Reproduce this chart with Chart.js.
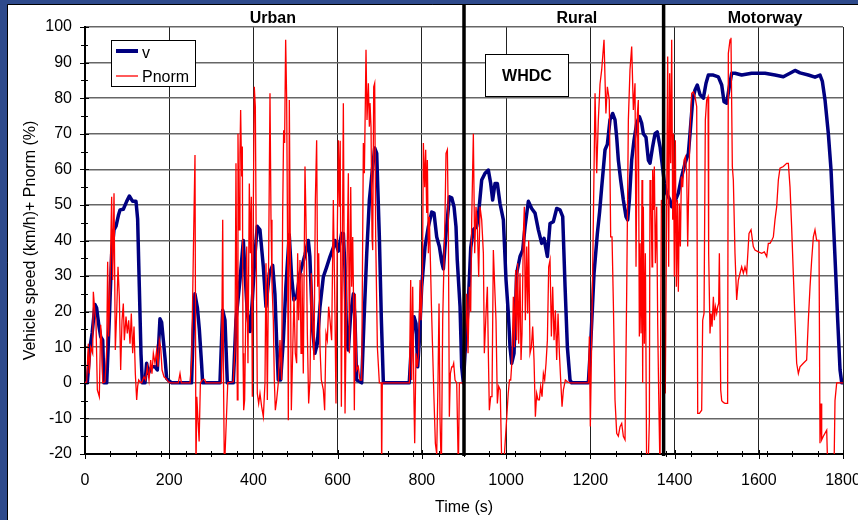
<!DOCTYPE html>
<html>
<head>
<meta charset="utf-8">
<script src="https://cdn.jsdelivr.net/npm/chart.js@4.4.1/dist/chart.umd.min.js"></script>
<style>
html, body { margin: 0; padding: 0; background: #2E4A8C; }
</style>
</head>
<body>
<canvas id="whdcChart" width="858" height="520"></canvas>
<script>
// vehicle speed v (km/h), [time s, value]
const speedTrace = [
  [0,0],[5.5,0],[11.9,10],[17,14],[23.7,22],[27.7,21],[33,16],[37.2,13],[42,12],[45,0],[51.5,0],
  [57.8,18],[63.3,36],[68.9,43],[73.6,44],[79.2,47],[83.1,48.6],[91,48.8],[99,51],[105.3,52.5],
  [113.2,51],[121.1,51],[125,46],[129,27],[133,8],[136.2,0],[142.5,0],[146.4,5.5],[150.4,2.6],
  [158.3,4.5],[166.2,4.5],[171.8,3.6],[178,18],[182,17],[186,12],[190,7],[194,1.2],[202,0.3],
  [206,0],[253,0],[257,15],[261,25],[267,21],[271.5,15],[277,5],[279.4,0],[320.5,0],[326.9,20.4],
  [332.4,17.6],[338,0],[352.2,0],[358.5,17.6],[368,28.9],[376,40],[380,30.8],[385.5,19.5],
  [391.8,14.4],[397.3,23],[403.7,36],[409,44],[415.5,43],[423.5,32.6],[429.8,21.4],[437.7,30.8],
  [445.6,33],[451,25],[455,12],[459,0.8],[464.6,0.8],[471,12],[477,27],[485,41.6],[490.7,29.8],
  [496,23.3],[502.6,24.2],[510.5,30.8],[522.4,36],[530.3,40],[534,35.5],[540.6,14.8],[546,8.3],
  [551.7,11],[558,21.4],[566,29.8],[574,32.6],[581.8,35.5],[589.7,38],[593.7,40],[601.6,37],
  [609.5,42],[613.5,42],[617.5,31.7],[621.4,12],[625.4,9.2],[631,19.5],[637.3,25],[641.2,17.6],
  [645,0.8],[657,0],[662.6,17.6],[669,36.3],[675.3,51.4],[681.6,58.9],[687.9,66],[692.7,64.5],
  [699,41],[703.8,17.6],[708.5,0],[770,0],[775.8,12],[781.3,18.6],[786,16.7],[790,4.5],[794,12],
  [799.5,27],[807.5,38.3],[815.4,43.9],[823.3,48],[828.8,47.7],[835.2,41],[841.5,38.3],[847,34],
  [851,32],[857.3,42],[865.3,52.3],[870.8,52],[876.3,49.5],[881,43.9],[884,34.5],[890.6,21.4],
  [894.5,4.5],[898.5,0],[902.5,8.3],[910,22],[916,38],[922.2,43],[930,43.9],[934,46.7],[942,57],
  [950,58.9],[957.8,59.8],[963.4,56],[968,51.4],[973.7,56],[979.2,56],[985.5,50.4],[993.5,45.8],
  [999.8,28.9],[1005.3,19.5],[1009.3,10],[1013.3,5.5],[1018.8,8.3],[1025.1,30.8],[1033,35.5],
  [1039.4,37.3],[1045,43.9],[1052.8,51],[1060.7,49],[1068.7,47.7],[1076.6,43],[1084.5,39.2],
  [1090,40.6],[1098,35.5],[1104.3,44.8],[1112.2,45.3],[1120.1,49],[1128,48.6],[1134.4,46.7],
  [1140,27],[1145.5,10],[1151.8,0.8],[1155.7,0],[1195.3,0],[1200.9,11],[1208.8,30.8],[1216.7,42],
  [1222,48],[1227,55],[1234.9,65.5],[1240.4,67],[1246.7,73.9],[1253,75.7],[1258.6,73.9],
  [1262.6,69],[1266.5,62.6],[1272,57],[1278.4,51.4],[1284.7,46.7],[1288.7,45.8],[1292.7,51.4],
  [1298.2,62.6],[1303.7,68.2],[1310,72.9],[1316.4,74.8],[1322,72.9],[1325.9,70],[1332.2,69],
  [1337.8,62.6],[1341.7,61.7],[1348,66.4],[1353.6,70],[1359,70.5],[1365.5,66.4],[1369.4,62.6],
  [1376,56],[1381,53.3],[1389,51.4],[1393,49.5],[1401,51],[1409,53.3],[1417,58],[1424.9,61.7],
  [1432.8,64.5],[1436.7,70],[1443,79.5],[1448.6,82.3],[1454,83.7],[1460.5,81],[1468.4,80],
  [1474.7,84.2],[1480.3,86.5],[1492,86.5],[1504,86],[1512,83.7],[1517.5,79],[1523.8,78.6],
  [1530,83.2],[1535.7,87],[1543.5,87],[1559.4,86.5],[1583,87],[1614.8,87],[1638.5,86.5],
  [1658.3,86],[1674,87],[1686,87.8],[1697.9,87.1],[1717.7,86.5],[1733.5,85.9],[1745.4,86.5],
  [1751,84.7],[1757.3,79.5],[1765.2,70],[1771.5,60],[1777,45.8],[1782.7,30.8],[1787.4,17.6],
  [1793,3.6],[1797,0],[1800,0]
];

// normalised power Pnorm (%), [time s, value]
const pnormTrace = [
  [0,0],[4,0.3],[7.9,11],[10.3,2.6],[13.5,10],[18.2,8.3],[19.8,25.6],[23.7,19.5],[26,17.6],
  [29.3,-2],[34,-3.9],[37.2,16.3],[39.6,12],[42,0],[47.5,0.3],[51.5,9.2],[53.8,34],[56.2,13],
  [59.4,28],[63.3,52.3],[65.7,28.9],[68.9,53.3],[72,9.2],[75.2,19.5],[78.4,32.6],[81.5,24.2],
  [84.7,3.6],[87.9,17.6],[91,22.3],[93.4,12],[97.4,18.6],[100.5,13.9],[103.7,17.6],[106.9,11],
  [110,19.5],[113.2,8.3],[116.4,15.8],[119.5,2.6],[122.7,-4.8],[125,-1],[127.5,0.8],[130.6,0.3],
  [134.6,0],[140,1.7],[144,0.8],[148,4.5],[152,0.8],[156,6.4],[159,2.6],[162.3,8.3],[166.2,5.5],
  [170.2,9.2],[173.4,4.5],[176.5,12],[179.7,10],[183,3.6],[187.6,1.7],[192.4,1.2],[198,0.3],
  [203.4,0],[221.6,0],[225.6,2.6],[228.8,0],[249.4,0],[253.3,6.4],[257.3,36.4],[261.2,64],
  [263.5,-25],[265.5,-3.9],[271,-16.5],[274,0],[280,1],[284,1],[287,0],[324,0],[327,45.8],
  [329,0],[331,-25],[339,0],[352.2,0.3],[356.2,10],[358.5,61.7],[361.7,-4.8],[363.3,70],
  [365.7,43],[368,64.5],[369.6,76.7],[372,58],[373.6,66.4],[375.2,8.3],[376.8,-7.7],[379.1,-4.8],
  [384,38.3],[387,5.5],[390.2,56],[392.6,36.4],[395,52.3],[397.3,-3.9],[399.7,49.5],[402,83.2],
  [404.5,77.6],[406.8,34.5],[409.2,-3],[412.4,-5.8],[415.5,-3],[419.5,-6.7],[423.5,-9.5],
  [427.4,0],[429.8,33.6],[433,-4.8],[436,33.6],[439.3,81.4],[441.7,45.8],[444,28],[447.2,17.6],
  [449.6,0.8],[452,-7.7],[455.1,-4.8],[459,0],[463,12],[467,0.8],[469.4,47.7],[471.7,71],
  [474,67.4],[476.5,96.4],[478.9,79.5],[481.2,36.4],[482.8,-10.5],[485.2,79.5],[487.6,36.4],
  [490,-7.7],[493.1,8.3],[496.3,24.2],[499.4,8.3],[502.6,5.5],[505,36.4],[507.4,17.6],
  [510.5,34.5],[513,8.3],[515.3,30.8],[518.4,2.6],[522.4,60.8],[524.8,45.8],[528,13.9],
  [531.1,-5.8],[534.3,0.8],[537.4,30.8],[540.6,17.6],[543.8,6.4],[547,51.4],[550.1,68.2],
  [552.5,27],[554.9,36.4],[558,10],[561.2,0.8],[566,-2],[569.1,-7.7],[572.3,13.9],[575.4,12],
  [578.6,21.4],[581.8,17.6],[585.7,12],[589.7,51.4],[593.6,19.5],[596,-5.8],[599.2,43],
  [601.6,68.2],[604,49.5],[606,68],[608.8,-6.7],[613.5,78.6],[615.9,27],[617.5,-8.6],[621.4,27],
  [625.4,58.9],[627.8,8.3],[631,55],[633.3,27],[635.7,41],[637.3,27],[639.6,-7.7],[642,25],
  [645.2,3.6],[649,4.5],[653,0.8],[657,0.8],[661,67.4],[663.4,58.9],[665.8,79.5],[667.3,93.6],
  [669.7,73.9],[672.9,84.2],[675.3,72],[676.8,78.6],[679.2,72],[681.6,41],[683.2,37.3],
  [685.6,83.2],[687.9,84.2],[690.3,41],[694.3,10],[699,0],[703.5,0],[704.5,-25],[706,0],
  [770.3,0],[773.4,28.9],[775.8,0.8],[778.2,27],[781.3,-5.8],[782.9,-17],[786,8.3],[789.3,4.5],
  [792.4,8.3],[795.6,28.9],[798,17.6],[801.1,27],[803.5,67.4],[806.7,55],[809,65.5],[811.4,47.7],
  [813,62.6],[815.4,36.4],[817.7,46.7],[820.9,30.8],[822.5,22.3],[825.7,8.3],[828.8,-4.8],
  [832,-17],[835.2,-20],[838.3,0.8],[840.7,22.3],[843.1,-10.5],[846.2,-25],[849.4,17.6],
  [852.6,34.5],[855,47.7],[857.3,64.5],[860.5,65.5],[862.9,43.9],[865.2,-9.5],[867.6,2.6],
  [870.8,4.5],[873.2,4.5],[875.5,5.5],[878.7,0.8],[882.7,0],[886.6,-25],[889,0],[900,0],
  [906.4,25],[909.6,8.3],[912.7,27],[915.9,20],[918.3,45.8],[922.2,70],[925.4,36.4],[928.5,49.5],
  [931.7,43.9],[934.9,29.8],[938,49.5],[942,45.8],[946,36.4],[948.3,8.3],[952.3,19.5],[955.5,27],
  [957.8,8.3],[960.2,-7.7],[963.4,-3.9],[966.5,-3.9],[969.7,37.3],[972.9,27],[976,17.6],
  [979.2,-5.8],[982.4,-1],[986,-2],[990,-25],[995,-22],[1005,-3],[1008,0.8],[1010.9,0.8],
  [1014,6.4],[1017.2,24.2],[1019.6,10],[1022.7,31.7],[1025.1,12],[1027.5,33.6],[1029.9,11],
  [1033,30.8],[1035.4,6.4],[1037.8,13.9],[1041,42],[1043.3,49.5],[1045.7,17.6],[1048.9,38.3],
  [1051.2,19.5],[1053.6,40],[1056.8,8.3],[1060,10],[1063.1,15.8],[1066.3,6.4],[1069.5,-9.5],
  [1072.6,-3],[1075.8,-4.8],[1079,-4.8],[1082.1,-1],[1085.3,-3.9],[1088.5,2.6],[1091.6,0.8],
  [1094.8,5.5],[1098,12],[1101.1,32.6],[1104.3,34.5],[1107.5,13],[1110.6,27],[1113.8,12],
  [1117,20.4],[1120.1,6.4],[1123.3,19.5],[1126.5,8.3],[1129.6,0.8],[1132.8,-6.7],[1136,-2],
  [1140.7,0.8],[1145.5,0.3],[1151.8,0],[1195.3,0],[1197.7,13],[1200,-12.3],[1203.2,12],
  [1207.2,45.8],[1211.2,81.4],[1215.1,58.9],[1219,73.9],[1223,84],[1227,88],[1232.5,96.4],
  [1237,75.7],[1240.4,83.2],[1245,79.5],[1248.3,41],[1251.5,41],[1254.7,22.3],[1258.6,-4.8],
  [1262.6,-14.2],[1266.5,-15],[1270.5,-12.3],[1274.5,-11.4],[1278.4,-15],[1282.4,-16],
  [1286.3,25],[1290.3,73.9],[1294.2,88],[1298.2,94.5],[1302.2,76.7],[1306.1,84.2],[1308.5,32.6],
  [1311.7,75.7],[1314,79.5],[1316.4,13],[1318,39.2],[1320.4,13.9],[1322.7,57],[1324.3,0],
  [1325.9,49.5],[1328.3,11],[1330.7,36.4],[1333.8,-25],[1337,-25],[1340.2,-10.5],[1341.7,57],
  [1344,53.3],[1346.5,32.6],[1348,59.8],[1349.7,48.6],[1352,60.8],[1354.4,33.6],[1357.6,49.5],
  [1360,16.3],[1362.3,-3],[1365.5,-25],[1368.7,51.4],[1371.8,47.7],[1378,-3],[1381.3,51.4],
  [1383.7,91.7],[1386,32.6],[1388.4,87],[1390.8,61.7],[1393.2,96.4],[1395.6,45.8],[1397.2,70],
  [1399.5,29.8],[1401.9,68.2],[1404.3,27],[1406.7,51.4],[1409,25.6],[1411.4,50.4],[1413.8,38.3],
  [1416.2,58],[1419.3,55],[1422.5,62.6],[1425.6,63.5],[1428.8,58.9],[1431.2,38.3],[1433.6,54.2],
  [1436.7,71],[1440.7,81.4],[1444.6,81.8],[1448.6,80.4],[1452.6,77.6],[1455,-8.6],[1459,-8.6],
  [1464.4,-7.7],[1466.8,17.6],[1470,19.5],[1473.1,73.9],[1476.3,79.5],[1479.5,80.4],[1481,36.4],
  [1484.2,13.9],[1486.6,19.5],[1489,15.8],[1492.2,24.2],[1494.5,17.6],[1497,21.4],[1500,19.5],
  [1502.4,21.4],[1504.8,22.3],[1506.4,36.4],[1509.6,-2],[1512,-5],[1516,-5.5],[1520,-5.8],
  [1526,-5.8],[1527.7,92.6],[1531.7,96.4],[1534,97],[1537.2,60.8],[1539.6,57],[1543.5,36.4],
  [1547.5,23.3],[1551.5,28.9],[1555.4,30.8],[1559.4,32.6],[1563.4,30.8],[1567.3,32.6],
  [1571.3,30.8],[1576.8,42],[1581.6,43],[1587,38.3],[1591,37.3],[1599,36.8],[1607,36.4],
  [1613.2,36.8],[1618.8,35.5],[1622.7,39.2],[1626.7,39.2],[1630.6,40],[1634.6,41],[1638.5,45.8],
  [1642.5,49.5],[1646.5,57],[1650.4,60.3],[1658.3,60.8],[1666.3,61.7],[1670.2,61.7],[1674.2,55],
  [1678,43.9],[1682,30.8],[1686,17.6],[1690,5.5],[1694,2.6],[1697.9,4.5],[1705.8,5.5],
  [1713.7,6.4],[1717.7,17.6],[1721.7,27],[1725.6,34.5],[1729.6,41],[1733.5,43],[1737.5,40],
  [1743,40],[1745.4,-17],[1747.8,-5.8],[1749.4,-16],[1753.3,-15],[1761.3,-13.3],[1765,-30],
  [1778,-30],[1781,-5],[1785,0],[1800,0]
];

const seriesNames = ['v', 'Pnorm'];
const phaseNames = ['Urban', 'Rural', 'Motorway'];
const phaseEnds = [900, 1374];     // s, phase boundaries
const cycleName = 'WHDC';
const xLabel = 'Time (s)';
const yLabel = 'Vehicle speed (km/h)+ Pnorm (%)';

const FONT = 'Liberation Sans, Arial, sans-serif';

// frame, tick marks, phase lines, legend and label boxes
const overlay = {
    id: 'overlay',
    beforeDraw(chart) {
        let ctx = chart.ctx;
        ctx.save();
        ctx.fillStyle = '#2E4A8C';
        ctx.fillRect(0, 0, chart.width, chart.height);
        ctx.fillStyle = '#ffffff';
        ctx.fillRect(8, 5, chart.width - 8, chart.height - 5);
        ctx.strokeStyle = '#000';
        ctx.lineWidth = 1;
        ctx.beginPath();
        ctx.moveTo(7.5, chart.height);
        ctx.lineTo(7.5, 4.5);
        ctx.lineTo(chart.width, 4.5);
        ctx.stroke();
        ctx.restore();
    },
    afterDatasetsDraw(chart) {
        let ctx = chart.ctx;
        let a = chart.chartArea;
        let x = chart.scales.x;
        let y = chart.scales.y;
        ctx.save();

        // tick marks crossing the axes
        ctx.strokeStyle = '#000';
        ctx.lineWidth = 1;
        ctx.beginPath();
        for (let t = 0; t <= 1800; t += 60) {
            let px = Math.round(x.getPixelForValue(t)) + 0.5;
            ctx.moveTo(px, a.bottom - 3);
            ctx.lineTo(px, a.bottom + 3);
        }
        for (let t = 0; t <= 1800; t += 200) {
            let px = Math.round(x.getPixelForValue(t)) + 0.5;
            ctx.moveTo(px, a.bottom - 4);
            ctx.lineTo(px, a.bottom + 5);
        }
        for (let v = -20; v <= 100; v += 5) {
            let py = Math.round(y.getPixelForValue(v)) + 0.5;
            let big = v % 10 === 0;
            ctx.moveTo(a.left - (big ? 5 : 4), py);
            ctx.lineTo(a.left + (big ? 4 : 3), py);
        }
        ctx.stroke();

        // phase boundaries
        ctx.lineWidth = 3.5;
        ctx.beginPath();
        phaseEnds.forEach(t => {
            let px = x.getPixelForValue(t);
            ctx.moveTo(px, 5);
            ctx.lineTo(px, a.bottom + 2);
        });
        ctx.stroke();

        // phase names
        ctx.fillStyle = '#000';
        ctx.font = 'bold 16px ' + FONT;
        ctx.textAlign = 'center';
        ctx.textBaseline = 'alphabetic';
        let centres = [446, 1168, 1615];
        phaseNames.forEach((n, i) => ctx.fillText(n, x.getPixelForValue(centres[i]), 23));

        // cycle name box
        ctx.fillStyle = '#fff';
        ctx.fillRect(485, 54, 83, 42);
        ctx.lineWidth = 1;
        ctx.strokeRect(485.5, 54.5, 83, 42);
        ctx.fillStyle = '#000';
        ctx.fillText(cycleName, 527, 81);

        // legend
        ctx.fillStyle = '#fff';
        ctx.fillRect(111, 40, 84, 46);
        ctx.strokeRect(111.5, 40.5, 84, 46);
        ctx.lineWidth = 4;
        ctx.strokeStyle = '#000080';
        ctx.beginPath(); ctx.moveTo(116, 51); ctx.lineTo(138, 51); ctx.stroke();
        ctx.lineWidth = 1.3;
        ctx.strokeStyle = '#ff0000';
        ctx.beginPath(); ctx.moveTo(116, 76); ctx.lineTo(138, 76); ctx.stroke();
        ctx.fillStyle = '#000';
        ctx.font = '16px ' + FONT;
        ctx.textAlign = 'left';
        ctx.fillText(seriesNames[0], 142, 58);
        ctx.fillText(seriesNames[1], 142, 82);

        // axis titles
        ctx.textAlign = 'center';
        ctx.fillText(xLabel, (a.left + a.right) / 2, 512);
        ctx.translate(35, (a.top + a.bottom) / 2);
        ctx.rotate(-Math.PI / 2);
        ctx.fillText(yLabel, 0, 0);
        ctx.restore();
    }
};

Chart.defaults.font.family = FONT;
Chart.defaults.font.size = 16;
Chart.defaults.color = '#000';

let ctx = document.getElementById('whdcChart').getContext('2d');
let chart = new Chart(ctx, {
    type: 'line',
    data: {
        datasets: [{
            label: seriesNames[0],
            data: speedTrace.map(p => ({ x: p[0], y: p[1] })),
            borderColor: '#000080',
            borderWidth: 3.5,
            borderJoinStyle: 'round',
            pointRadius: 0,
            tension: 0,
            order: 2
        }, {
            label: seriesNames[1],
            data: pnormTrace.map(p => ({ x: p[0], y: p[1] })),
            borderColor: '#ff0000',
            borderWidth: 1.3,
            pointRadius: 0,
            tension: 0,
            clip: 0,
            order: 1
        }]
    },
    options: {
        responsive: false,
        animation: false,
        devicePixelRatio: 1,
        layout: { padding: { left: 0, top: 27, right: 15, bottom: 0 } },
        plugins: { legend: { display: false }, tooltip: { enabled: false } },
        scales: {
            x: {
                type: 'linear',
                min: 0,
                max: 1800,
                ticks: { stepSize: 200, padding: 17, maxRotation: 0, callback: v => String(v) },
                grid: { color: '#222', lineWidth: 1, drawTicks: false },
                border: { color: '#000', width: 2 },
                afterFit(s) { s.height = 66; s.paddingLeft = 0; s.paddingRight = 0; }
            },
            y: {
                min: -20,
                max: 100,
                ticks: { stepSize: 10, padding: 13, callback: v => String(v) },
                grid: { color: '#666', lineWidth: 1.6, drawTicks: false },
                border: { color: '#000', width: 2 },
                afterFit(s) { s.width = 85; s.paddingTop = 0; s.paddingBottom = 0; }
            }
        }
    },
    plugins: [overlay]
});
</script>
</body>
</html>
